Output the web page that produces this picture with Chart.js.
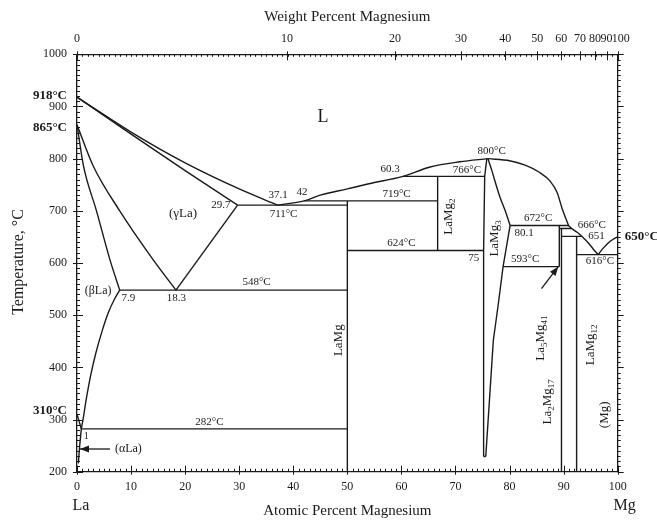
<!DOCTYPE html>
<html>
<head>
<meta charset="utf-8">
<script src="https://cdn.jsdelivr.net/npm/chart.js@4/dist/chart.umd.min.js"></script>
<style>
  body { margin: 0; background: #fff; }
  #wrap { width: 657px; height: 523px; }
</style>
</head>
<body>
<div id="wrap"><canvas id="chart" width="657" height="523"></canvas></div>
<script>
// La-Mg phase diagram, x = atomic percent Mg, y = temperature in degC
const atTicks = [0, 10, 20, 30, 40, 50, 60, 70, 80, 90, 100];
const wtTicks = [0, 10, 20, 30, 40, 50, 60, 70, 80, 90, 100];
const tempTicks = [200, 300, 400, 500, 600, 700, 800, 900, 1000];

// curved boundaries (x sorted so they can be drawn with monotone splines)
const liquidusLa = [[0, 918], [10, 851], [20, 792], [30, 742], [37.1, 711]];
const solidusGammaLa = [[0, 918], [10, 847], [20, 777], [29.7, 711]];
const betaGammaLeft = [[0, 865], [1.2, 786], [3.6, 700], [6.1, 606], [7.9, 548]];
const betaGammaRight = [[0, 865], [3.0, 786], [7.9, 700], [14.1, 606], [18.3, 548]];
const betaSolvus = [[0.8, 282], [1.15, 302], [1.7, 338], [2.5, 383], [3.5, 428], [4.6, 468], [5.8, 505], [6.9, 530], [7.9, 548]];
const alphaSolvus = [[0.25, 216], [0.5, 250], [0.8, 282]];
const liquidusMid = [[37.1, 711], [42, 719], [45, 730], [50, 742], [54, 752], [60.3, 766], [65.3, 784], [70.8, 794], [76, 800]];
const liquidusMgHigh = [[76, 800], [80, 796], [83, 787], [85.5, 774], [87.5, 757], [88.8, 735], [89.7, 705], [90.9, 672]];
const liquidusMgLow = [[90.9, 672], [91.5, 666], [92.5, 659], [93.5, 650], [94.7, 637], [95.7, 624], [96.4, 616]];
const liquidusMgEnd = [[96.4, 616], [97.2, 627], [98.2, 638], [99.1, 645], [100, 650]];
const laMg3RightHigh = [[76, 800], [76.7, 778], [77.5, 750], [78.2, 727], [79.2, 700], [80.1, 672]];

// straight lines
const laMg3Left = [[75.8, 800], [75.4, 766], [75.2, 624], [75.2, 229]];
const laMg3RightLow = [[80.1, 672], [78.8, 593], [77.9, 520], [77, 452], [76.3, 340], [75.6, 229]];
const gammaLaRight = [[29.7, 711], [18.3, 548]];
const alphaBeta = [[0, 310], [0.8, 282]];
const line548 = [[7.9, 548], [50, 548]];
const line282 = [[0.8, 282], [50, 282]];
const line711 = [[29.7, 711], [50, 711]];
const line719 = [[42, 719], [66.7, 719]];
const line766 = [[60.3, 766], [75.4, 766]];
const line624 = [[50, 624], [75.2, 624]];
const laMgLine = [[50, 200], [50, 719]];
const laMg2Line = [[66.7, 624], [66.7, 766]];
const laMg3Bottom = [[75.2, 229], [75.6, 229]];
const line672 = [[80.1, 672], [91, 672]];
const line666 = [[89.3, 666], [91.5, 666]];
const line651 = [[89.6, 651], [93.3, 651]];
const line593 = [[78.8, 593], [89.2, 593]];
const la5Mg41Line = [[89.2, 593], [89.2, 672]];
const la2Mg17Line = [[89.6, 200], [89.6, 666]];
const laMg12Line = [[92.4, 200], [92.4, 651]];
const line616 = [[92.4, 616], [100, 616]];

const curves = [liquidusLa, solidusGammaLa, betaGammaLeft, betaGammaRight, betaSolvus, alphaSolvus,
  liquidusMid, liquidusMgHigh, liquidusMgLow, liquidusMgEnd, laMg3RightHigh];
const straights = [laMg3Left, laMg3RightLow, gammaLaRight, alphaBeta, line548, line282, line711, line719,
  line766, line624, laMgLine, laMg2Line, laMg3Bottom, line672, line666, line651, line593, la5Mg41Line,
  la2Mg17Line, laMg12Line, line616];

// annotation texts: [text parts, at% Mg, temperature, font size, rotated]
const labels = [
  [['L'], 45.5, 880, 18, false],
  [['(γLa)'], 19.6, 695, 13, false],
  [['29.7'], 26.6, 710, 11, false],
  [['37.1'], 37.2, 731, 11, false],
  [['42'], 41.6, 735, 11, false],
  [['711°C'], 38.2, 693, 11, false],
  [['719°C'], 59.1, 732, 11, false],
  [['60.3'], 57.9, 780, 11, false],
  [['766°C'], 72.1, 778, 11, false],
  [['800°C'], 76.7, 815, 11, false],
  [['624°C'], 60.0, 639, 11, false],
  [['75'], 73.4, 609, 11, false],
  [['672°C'], 85.3, 686, 11, false],
  [['80.1'], 82.7, 657, 11, false],
  [['593°C'], 82.9, 607, 11, false],
  [['666°C'], 95.2, 673, 11, false],
  [['651'], 96.1, 652, 11, false],
  [['616°C'], 96.7, 603, 11, false],
  [['548°C'], 33.2, 564, 11, false],
  [['(βLa)'], 3.9, 546, 12, false],
  [['7.9'], 9.5, 532, 11, false],
  [['18.3'], 18.4, 533, 11, false],
  [['282°C'], 24.5, 296, 11, false],
  [['1'], 1.7, 267, 10, false],
  [['(αLa)'], 9.5, 243, 12, false],
  [['LaMg', '_2'], 68.7, 689, 13, true],
  [['LaMg', '_3'], 77.3, 647, 13, true],
  [['LaMg'], 48.3, 452, 13, true],
  [['La', '_5', 'Mg', '_41'], 85.8, 456, 13, true],
  [['La', '_2', 'Mg', '_17'], 87.1, 334, 13, true],
  [['LaMg', '_12'], 94.9, 443, 13, true],
  [['(Mg)'], 97.6, 309, 13, true]
];
const arrows = [
  [[6.1, 243.5], [0.55, 243.5]],
  [[85.9, 551], [89.0, 593]]
];
const leftTemps = [['918°C', 918, -1], ['865°C', 865, 3], ['310°C', 310, -4]];
const rightTemps = [['650°C', 650, 0]];

const SERIF = '"Liberation Serif", "DejaVu Serif", serif';
const INK = '#1a1a1a';

function wtToAt(w) {
  const mg = w / 24.305;
  const la = (100 - w) / 138.905;
  return 100 * mg / (mg + la);
}

function toPoints(arr) {
  return arr.map(p => ({ x: p[0], y: p[1] }));
}

const datasets = [];
curves.forEach(c => datasets.push({
  data: toPoints(c), showLine: true, pointRadius: 0, borderColor: INK, borderWidth: 1.4,
  cubicInterpolationMode: 'monotone', fill: false
}));
straights.forEach(s => datasets.push({
  data: toPoints(s), showLine: true, pointRadius: 0, borderColor: INK, borderWidth: 1.4, tension: 0, fill: false
}));

function drawRich(ctx, parts, x, y, size, rotated) {
  const subSize = Math.round(size * 0.72);
  const pieces = parts.map(p => {
    const sub = p.startsWith('_');
    const text = sub ? p.slice(1) : p;
    ctx.font = `${sub ? subSize : size}px ${SERIF}`;
    return { text, sub, w: ctx.measureText(text).width };
  });
  const total = pieces.reduce((a, b) => a + b.w, 0);
  ctx.save();
  ctx.translate(x, y);
  if (rotated) ctx.rotate(-Math.PI / 2);
  ctx.textBaseline = 'middle';
  ctx.textAlign = 'left';
  let cx = -total / 2;
  pieces.forEach(p => {
    ctx.font = `${p.sub ? subSize : size}px ${SERIF}`;
    ctx.fillText(p.text, cx, p.sub ? size * 0.32 : 0);
    cx += p.w;
  });
  ctx.restore();
}

const decor = {
  id: 'decor',
  beforeDraw(chart) {
    const ctx = chart.ctx;
    ctx.save();
    ctx.fillStyle = '#fff';
    ctx.fillRect(0, 0, chart.width, chart.height);
    ctx.restore();
  },
  afterDraw(chart) {
    const ctx = chart.ctx;
    const xs = chart.scales.x, ys = chart.scales.y;
    const a = chart.chartArea;
    ctx.save();
    ctx.strokeStyle = INK;
    ctx.fillStyle = INK;
    ctx.lineWidth = 1;

    // tick marks, pointing into the plot like the original
    ctx.beginPath();
    for (let v = 0; v <= 100; v++) {
      const px = Math.round(xs.getPixelForValue(v)) + 0.5;
      const major = v % 10 === 0;
      ctx.moveTo(px, a.bottom + (major ? 3 : 0));
      ctx.lineTo(px, a.bottom - (major ? 6 : 3));
      ctx.moveTo(px, a.top);
      ctx.lineTo(px, a.top + 2.5);
    }
    wtTicks.forEach(w => {
      const px = Math.round(xs.getPixelForValue(wtToAt(w))) + 0.5;
      ctx.moveTo(px, a.top - 3);
      ctx.lineTo(px, a.top + 6);
    });
    for (let t = 200; t <= 1000; t += 10) {
      const py = Math.round(ys.getPixelForValue(t)) + 0.5;
      const major = t % 100 === 0;
      ctx.moveTo(a.left - (major ? 4 : 0), py);
      ctx.lineTo(a.left + (major ? 6 : 3), py);
      ctx.moveTo(a.right, py);
      ctx.lineTo(a.right + (major ? 6 : 3), py);
    }
    ctx.stroke();

    // top tick labels (weight percent), packed tight at the Mg end
    ctx.font = `12px ${SERIF}`;
    ctx.textAlign = 'center';
    ctx.textBaseline = 'middle';
    wtTicks.forEach(w => {
      const shift = w === 100 ? 3 : (w === 90 ? -1 : 0);
      ctx.fillText(String(w), xs.getPixelForValue(wtToAt(w)) + shift, 39);
    });

    // arrows
    ctx.lineWidth = 1.3;
    arrows.forEach(([from, to]) => {
      const x1 = xs.getPixelForValue(from[0]), y1 = ys.getPixelForValue(from[1]);
      const x2 = xs.getPixelForValue(to[0]), y2 = ys.getPixelForValue(to[1]);
      const ang = Math.atan2(y2 - y1, x2 - x1);
      ctx.beginPath();
      ctx.moveTo(x1, y1);
      ctx.lineTo(x2, y2);
      ctx.stroke();
      ctx.beginPath();
      ctx.moveTo(x2, y2);
      ctx.lineTo(x2 - 9 * Math.cos(ang) + 3.5 * Math.sin(ang), y2 - 9 * Math.sin(ang) - 3.5 * Math.cos(ang));
      ctx.lineTo(x2 - 9 * Math.cos(ang) - 3.5 * Math.sin(ang), y2 - 9 * Math.sin(ang) + 3.5 * Math.cos(ang));
      ctx.closePath();
      ctx.fill();
    });

    // labels inside the diagram
    labels.forEach(([parts, x, t, size, rot]) => {
      drawRich(ctx, parts, xs.getPixelForValue(x), ys.getPixelForValue(t), size, rot);
    });

    // bold temperatures at the axes
    ctx.font = `bold 13px ${SERIF}`;
    ctx.textBaseline = 'middle';
    ctx.textAlign = 'right';
    leftTemps.forEach(([txt, t, dy]) => ctx.fillText(txt, a.left - 10, ys.getPixelForValue(t) + dy));
    ctx.textAlign = 'left';
    rightTemps.forEach(([txt, t, dy]) => ctx.fillText(txt, a.right + 7, ys.getPixelForValue(t) + dy));

    // axis titles
    ctx.font = `15px ${SERIF}`;
    ctx.textAlign = 'center';
    ctx.fillText('Weight Percent Magnesium', (a.left + a.right) / 2, 17);
    ctx.fillText('Atomic Percent Magnesium', (a.left + a.right) / 2, 511);
    ctx.font = `16px ${SERIF}`;
    ctx.fillText('La', a.left + 4, 506);
    ctx.fillText('Mg', a.right + 7, 506);
    ctx.save();
    ctx.translate(19, 262);
    ctx.rotate(-Math.PI / 2);
    ctx.font = `16px ${SERIF}`;
    ctx.fillText('Temperature, °C', 0, 0);
    ctx.restore();
    ctx.restore();
  }
};

const tickFont = { family: SERIF, size: 12 };

new Chart(document.getElementById('chart'), {
  type: 'scatter',
  data: { datasets },
  options: {
    responsive: false,
    animation: false,
    devicePixelRatio: 1,
    layout: { padding: 0 },
    plugins: { legend: { display: false }, tooltip: { enabled: false } },
    scales: {
      x: {
        type: 'linear', position: 'bottom', min: 0, max: 100,
        afterBuildTicks: axis => { axis.ticks = atTicks.map(v => ({ value: v })); },
        afterFit: axis => { axis.height = 51.3; },
        ticks: { font: tickFont, color: INK, padding: 8, maxRotation: 0, autoSkip: false,
          callback: v => String(v) },
        grid: { display: false, drawTicks: false },
        border: { display: true, color: INK, width: 1.3 }
      },
      x2: {
        type: 'linear', position: 'top', min: 0, max: 100,
        afterFit: axis => { axis.height = 54.3; },
        ticks: { display: false },
        grid: { display: false, drawTicks: false },
        border: { display: true, color: INK, width: 1.3 }
      },
      y: {
        type: 'linear', position: 'left', min: 200, max: 1000,
        afterBuildTicks: axis => { axis.ticks = tempTicks.map(v => ({ value: v })); },
        afterFit: axis => { axis.width = 77; },
        ticks: { font: tickFont, color: INK, padding: 10, callback: v => String(v) },
        grid: { display: false, drawTicks: false },
        border: { display: true, color: INK, width: 1.3 }
      },
      y2: {
        type: 'linear', position: 'right', min: 200, max: 1000,
        afterFit: axis => { axis.width = 39.3; },
        ticks: { display: false },
        grid: { display: false, drawTicks: false },
        border: { display: true, color: INK, width: 1.3 }
      }
    }
  },
  plugins: [decor]
});
</script>
</body>
</html>
